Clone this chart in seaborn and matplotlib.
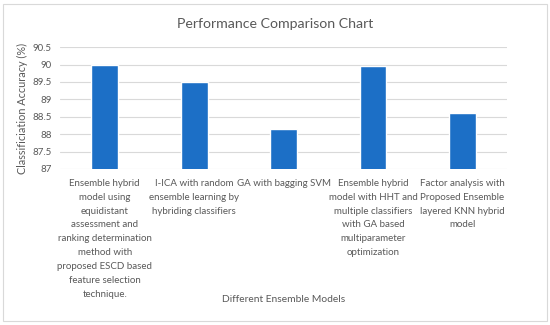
import pandas as pd
import seaborn as sns
import matplotlib.pyplot as plt
from matplotlib.patches import Rectangle

# Chart data
models = [
    "Ensemble hybrid\nmodel using\nequidistant\nassessment and\nranking determination\nmethod with\nproposed ESCD based\nfeature selection\ntechnique.",
    "I-ICA with random\nensemble learning by\nhybriding classifiers",
    "GA with bagging SVM",
    "Ensemble hybrid\nmodel with HHT and\nmultiple classifiers\nwith GA based\nmultiparameter\noptimization",
    "Factor analysis with\nProposed Ensemble\nlayered KNN hybrid\nmodel",
]
accuracy = [89.98, 89.50, 88.15, 89.95, 88.62]
y_ticks = [87, 87.5, 88, 88.5, 89, 89.5, 90, 90.5]
y_tick_labels = ["87", "87.5", "88", "88.5", "89", "89.5", "90", "90.5"]

df = pd.DataFrame({"Model": models, "Accuracy": accuracy})

sns.set_style("white")
plt.rcParams['font.family'] = ['Lato', 'DejaVu Sans']
text_color = "#595959"

fig = plt.figure(figsize=(5.5, 3.25), dpi=100)
ax = fig.add_axes([0.109, 0.48, 0.813, 0.375])

sns.barplot(data=df, x="Model", y="Accuracy", color="#1c6fc6", width=0.3,
            saturation=1, ax=ax, zorder=3)

ax.set_ylim(87, 90.5)
ax.set_yticks(y_ticks)
ax.set_yticklabels(y_tick_labels)
ax.grid(axis="y", color="#d9d9d9", linewidth=0.8, zorder=0)
ax.set_axisbelow(True)
for s in ax.spines.values():
    s.set_visible(False)
ax.tick_params(axis="both", length=0, labelsize=7, labelcolor=text_color)
ax.tick_params(axis="y", pad=6)
ax.tick_params(axis="x", pad=7)
for lbl in ax.get_xticklabels():
    lbl.set_linespacing(1.7)
    lbl.set_va("top")

ax.set_xlabel("Different Ensemble Models", fontsize=7.4, color=text_color, va="center")
ax.xaxis.set_label_coords(0.5, -1.074)
ax.set_ylabel("Classificiation Accuracy (%)", fontsize=7.8, color=text_color, va="center")
ax.yaxis.set_label_coords(-0.083, 0.5)

fig.text(0.5, 0.927, "Performance Comparison Chart", ha="center", va="center",
         fontsize=10.2, color=text_color)

# outer chart border
fig.patches.append(Rectangle((0.006, 0.012), 0.988, 0.975, transform=fig.transFigure,
                             fill=False, edgecolor="#d9d9d9", linewidth=0.8))

plt.savefig("out.png", dpi=100)
